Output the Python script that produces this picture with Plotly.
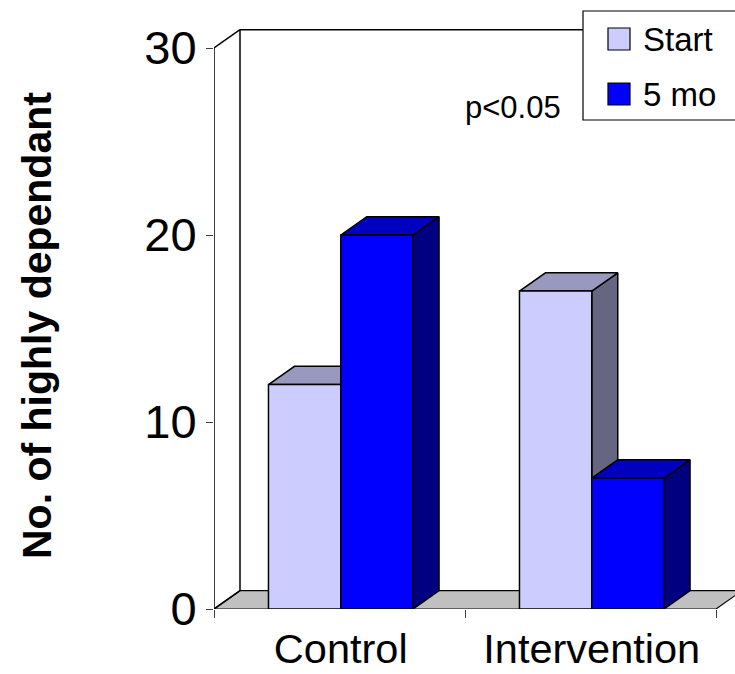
import plotly.graph_objects as go

# ---------------- data ----------------
categories = ["Control", "Intervention"]
series_names = ["Start", "5 mo"]
start_values = [12, 17]
five_mo_values = [20, 7]
y_tick_values = [0, 10, 20, 30]
note_text = "p<0.05"
y_title = "No. of highly dependant"

# ---------------- geometry / style ----------------
W, H = 735, 674
L_PX, B_PX = 214, 65
PX_PER_CAT = 251.0
PX_PER_UNIT = 18.7
plot_w = W - L_PX
plot_h = H - B_PX
x_max = plot_w / PX_PER_CAT
y_max = plot_h / PX_PER_UNIT
DX = 26 / PX_PER_CAT
DY = 18.3 / PX_PER_UNIT
BAR_W = 0.288
GROUP_OFF = 0.505
Y_TOP = max(y_tick_values)
FONT = "Arial, Liberation Sans, sans-serif"

colors = {
    "Start": dict(front="#CCCCFF", top="#9999C0", side="#666680"),
    "5 mo": dict(front="#0000FF", top="#0000C0", side="#000080"),
}


def px_x(px):
    return (px - L_PX) / plot_w


def px_y(py):
    return (plot_h - py) / plot_h


def poly(xs, ys, fill, lw=1.5, lc="black"):
    return go.Scatter(
        x=list(xs) + [xs[0]], y=list(ys) + [ys[0]], fill="toself",
        fillcolor=fill, mode="lines", line=dict(color=lc, width=lw),
        hoverinfo="skip", showlegend=False, cliponaxis=False,
    )


def seg(xs, ys, lw=1.5, color="black"):
    return go.Scatter(x=xs, y=ys, mode="lines", line=dict(color=color, width=lw),
                      hoverinfo="skip", showlegend=False, cliponaxis=False)


fig = go.Figure()
n = len(categories)

# floor
fig.add_trace(poly([0, n, n + DX, DX], [0, 0, DY, DY], "#C0C0C0", lw=1.2))
# walls
fig.add_trace(seg([0, 0], [0, Y_TOP]))
fig.add_trace(seg([0, DX], [Y_TOP, Y_TOP + DY]))
fig.add_trace(seg([DX, DX], [DY, Y_TOP + DY]))
fig.add_trace(seg([DX, x_max + 0.3], [Y_TOP + DY, Y_TOP + DY]))
fig.add_trace(seg([0, DX], [0, DY]))

# bars (side, top, front faces) drawn back-to-front
series_values = {"Start": start_values, "5 mo": five_mo_values}
for i, cat in enumerate(categories):
    c = i + GROUP_OFF
    for j, s in enumerate(series_names):
        v = series_values[s][i]
        x0 = c - BAR_W + j * BAR_W
        x1 = x0 + BAR_W
        col = colors[s]
        fig.add_trace(poly([x1, x1 + DX, x1 + DX, x1], [0, DY, v + DY, v], col["side"]))
        fig.add_trace(poly([x0, x1, x1 + DX, x0 + DX], [v, v, v + DY, v + DY], col["top"]))
        fig.add_trace(poly([x0, x1, x1, x0], [0, 0, v, v], col["front"]))

shapes = []
annotations = []

# legend (manual)
shapes.append(dict(type="rect", xref="paper", yref="paper",
                   x0=px_x(583), x1=px_x(760), y0=px_y(120), y1=px_y(11),
                   fillcolor="white", line=dict(color="black", width=1.2), layer="above"))
leg_rows = [39, 94]
for s, cy in zip(series_names, leg_rows):
    shapes.append(dict(type="rect", xref="paper", yref="paper",
                       x0=px_x(608), x1=px_x(630), y0=px_y(cy + 11), y1=px_y(cy - 11),
                       fillcolor=colors[s]["front"], line=dict(color="black", width=1.2),
                       layer="above"))
    annotations.append(dict(text=s, xref="paper", yref="paper", x=px_x(641), y=px_y(cy),
                            xanchor="left", yanchor="middle", showarrow=False,
                            font=dict(family=FONT, size=33, color="black")))

annotations.append(dict(text=note_text, xref="paper", yref="paper", x=px_x(513), y=px_y(107),
                        xanchor="center", yanchor="middle", showarrow=False,
                        font=dict(family=FONT, size=31, color="black")))
annotations.append(dict(text="<b>" + y_title + "</b>", xref="paper", yref="paper",
                        x=px_x(37), y=px_y(326), textangle=-90,
                        xanchor="center", yanchor="middle", showarrow=False,
                        font=dict(family=FONT, size=41, color="black")))

fig.update_layout(
    width=W, height=H,
    margin=dict(l=L_PX, r=0, t=0, b=B_PX, pad=0, autoexpand=False),
    paper_bgcolor="white", plot_bgcolor="white",
    showlegend=False,
    shapes=shapes, annotations=annotations,
    xaxis=dict(range=[0, x_max], showgrid=False, zeroline=False, showline=False,
               automargin=False,
               tickmode="array", tickvals=[i + GROUP_OFF for i in range(n)],
               ticktext=categories, ticks="", ticklabelstandoff=11,
               tickfont=dict(family=FONT, size=41.5, color="black"),
               minor=dict(tickmode="array", tickvals=list(range(n + 1)), ticks="outside",
                          ticklen=8, tickwidth=1.2, tickcolor="#404040"),
               fixedrange=True),
    yaxis=dict(range=[0, y_max], showgrid=False, zeroline=False, showline=False,
               automargin=False,
               tickmode="array", tickvals=y_tick_values,
               ticks="outside", ticklen=7, tickwidth=1.2, tickcolor="#404040",
               tickfont=dict(family=FONT, size=47, color="black"),
               fixedrange=True),
)

fig.write_html("out.html")
